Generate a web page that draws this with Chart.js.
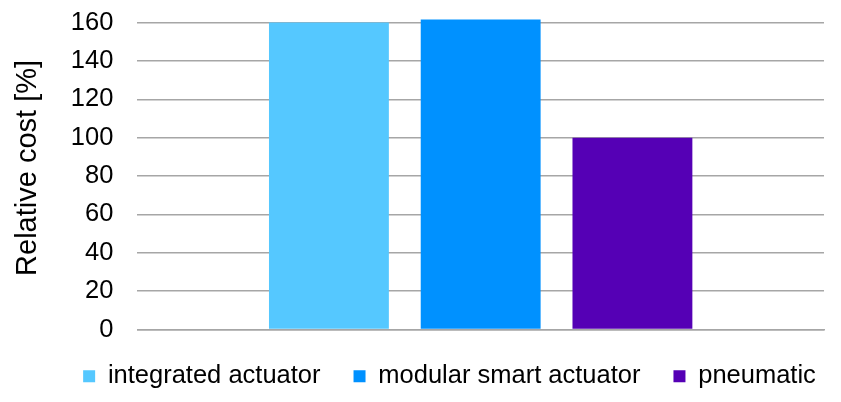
<!DOCTYPE html>
<html>
<head>
<meta charset="utf-8">
<script src="https://cdn.jsdelivr.net/npm/chart.js@4/dist/chart.umd.min.js"></script>
<style>
    html, body { margin: 0; padding: 0; background: #fff; }
    #wrap { width: 841px; height: 402px; }
</style>
</head>
<body>
<div id="wrap"><canvas id="chartCost"></canvas></div>
<script>
    const categories = [''];
    const seriesNames = ['integrated actuator', 'modular smart actuator', 'pneumatic'];
    const seriesValues = [[160], [161.5], [100]];
    const seriesColors = ['#55C8FF', '#0091FF', '#5500B5'];
    const yTicks = [0, 20, 40, 60, 80, 100, 120, 140, 160];

    const fontFamily = '"Liberation Sans", Arial, sans-serif';
    const gridColor = '#a6a6a6';

    // legend sits a bit right of canvas center in the original
    const legendShift = {
        id: 'legendShift',
        afterLayout(chart) {
            if (chart.legend) {
                chart.legend.left += 32;
                chart.legend.right += 32;
            }
        }
    };

    new Chart(document.getElementById('chartCost'), {
        type: 'bar',
        data: {
            labels: categories,
            datasets: seriesNames.map((name, i) => ({
                label: name,
                data: seriesValues[i],
                backgroundColor: seriesColors[i],
                borderWidth: 0,
                clip: false,
                categoryPercentage: 0.663,
                barPercentage: 0.79
            }))
        },
        options: {
            responsive: true,
            maintainAspectRatio: false,
            animation: false,
            layout: { padding: { top: 0, right: 17, left: 11, bottom: 3 } },
            plugins: {
                tooltip: { enabled: false },
                legend: {
                    position: 'bottom',
                    labels: {
                        boxWidth: 12,
                        boxHeight: 12,
                        padding: 33,
                        color: '#000',
                        font: { family: fontFamily, size: 25.5 }
                    }
                }
            },
            scales: {
                x: {
                    grid: { display: false, drawTicks: false },
                    border: { color: gridColor, width: 1.5 },
                    ticks: { display: false },
                    afterFit: axis => { axis.height += 1; }
                },
                y: {
                    min: 0,
                    max: 160,
                    afterBuildTicks: axis => { axis.ticks = yTicks.map(v => ({ value: v })); },
                    afterFit: axis => { axis.paddingTop = 22.5; axis.paddingBottom = 0; },
                    grid: { color: gridColor, lineWidth: 1.5, drawTicks: false },
                    border: { display: false },
                    ticks: {
                        padding: 24,
                        color: '#000',
                        font: { family: fontFamily, size: 25.5 }
                    },
                    title: {
                        display: true,
                        text: '  Relative cost [%]',
                        color: '#000',
                        padding: { top: 0, bottom: 1 },
                        font: { family: fontFamily, size: 29 }
                    }
                }
            }
        },
        plugins: [legendShift]
    });
</script>
</body>
</html>
